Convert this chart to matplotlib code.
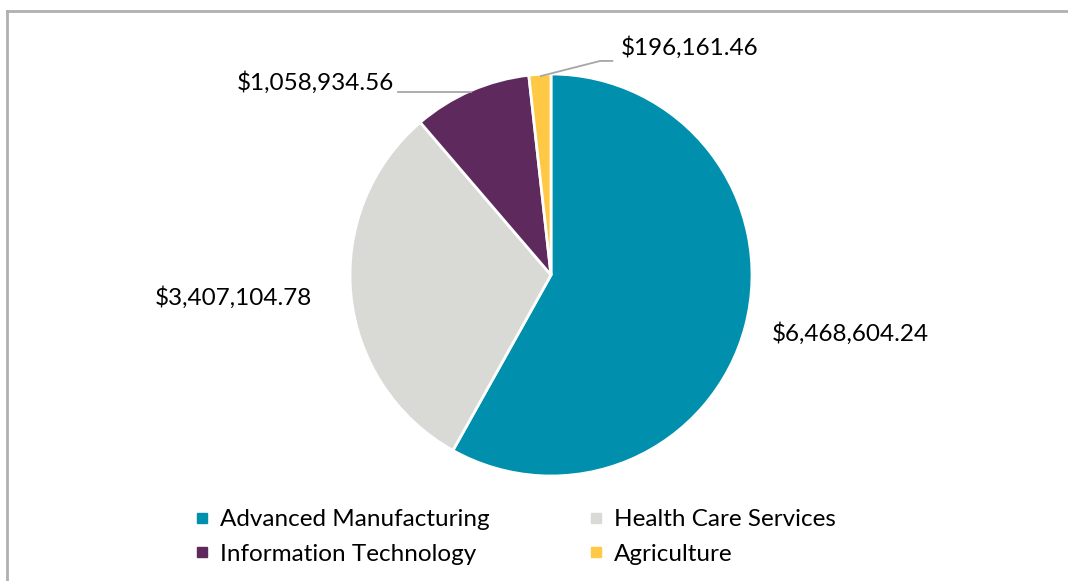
import matplotlib.pyplot as plt
from matplotlib.lines import Line2D

# Data
sectors = ['Advanced Manufacturing', 'Health Care Services', 'Information Technology', 'Agriculture']
amounts = [6468604.24, 3407104.78, 1058934.56, 196161.46]
colors = ['#0090AD', '#D9D9D6', '#5E2A5E', '#FFC845']

plt.rcParams['font.family'] = ['Lato', 'DejaVu Sans']

W, H = 1068, 581
fig = plt.figure(figsize=(W / 100, H / 100), dpi=100)

# pie axes: center (551, 275) px, radius 201 px
R = 201
L = 1.4
side = 2 * L * R
cx, cy = 551, H - 275
ax = fig.add_axes([(cx - side / 2) / W, (cy - side / 2) / H, side / W, side / H])
wedges, _ = ax.pie(amounts, colors=colors, startangle=90, counterclock=False,
                   radius=1, wedgeprops=dict(edgecolor='white', linewidth=2))
ax.set_xlim(-L, L)
ax.set_ylim(-L, L)
ax.set_aspect('equal')
ax.axis('off')

# data labels
labels = ['${:,.2f}'.format(v) for v in amounts]
label_pos = [(1.49, -0.29), (-1.58, -0.11), (-1.17, 0.96), (0.69, 1.13)]
for txt, (x, y) in zip(labels, label_pos):
    ax.text(x, y, txt, ha='center', va='center', fontsize=17.5, color='black')

# leader lines
ax.plot([-0.76, -0.40], [0.91, 0.91], color='#A6A6A6', lw=1.3, clip_on=False)
ax.plot([-0.05, 0.245, 0.305], [0.99, 1.065, 1.065], color='#A6A6A6', lw=1.3, clip_on=False)

# legend
handles = [Line2D([], [], marker='s', linestyle='none', markersize=7,
                  markerfacecolor=c, markeredgecolor=c) for c in colors]
order = [0, 2, 1, 3]
fig.legend([handles[i] for i in order], [sectors[i] for i in order], ncol=2,
           loc='center', bbox_to_anchor=(516 / W, 1 - 537 / H), frameon=False,
           fontsize=17.5, handlelength=0.5, handletextpad=0.5, columnspacing=4.1,
           labelspacing=0.55)

# chart frame (partially cut off at right and bottom)
fig.add_artist(Line2D([7 / W, 7 / W], [0, 1 - 11 / H], color='#B0B0B0', lw=2,
                      transform=fig.transFigure))
fig.add_artist(Line2D([7 / W, 1], [1 - 11 / H, 1 - 11 / H], color='#B0B0B0', lw=2,
                      transform=fig.transFigure))

fig.savefig('out.png', dpi=100, facecolor='white')
